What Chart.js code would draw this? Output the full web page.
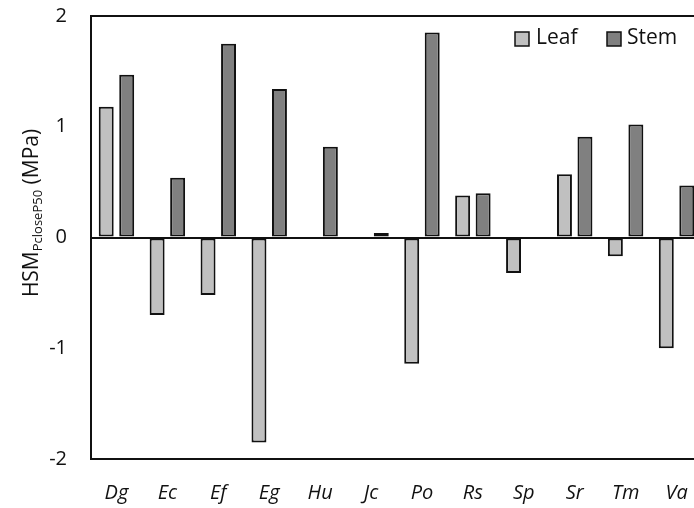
<!DOCTYPE html>
<html>
<head>
<meta charset="utf-8">
<script src="https://cdn.jsdelivr.net/npm/chart.js@4/dist/chart.umd.min.js"></script>
<style>
  html, body { margin: 0; padding: 0; background: #fff; overflow: hidden; }
  #wrap { position: relative; width: 705px; height: 508px; }
</style>
</head>
<body>
<div id="wrap"><canvas id="c"></canvas></div>
<script>
const categories = ["Dg", "Ec", "Ef", "Eg", "Hu", "Jc", "Po", "Rs", "Sp", "Sr", "Tm", "Va"];
const leafValues = [1.18, -0.70, -0.52, -1.85, null, null, -1.14, 0.38, -0.32, 0.57, -0.17, -1.00];
const stemValues = [1.47, 0.54, 1.75, 1.34, 0.82, 0.04, 1.85, 0.40, null, 0.91, 1.02, 0.47];
const yTicks = [-2, -1, 0, 1, 2];
const seriesNames = ["Leaf", "Stem"];

const FONT = "'Open Sans', 'DejaVu Sans', sans-serif";

const frameAndLegend = {
  id: 'frameAndLegend',
  afterDraw(chart) {
    const ctx = chart.ctx;
    ctx.save();
    const items = [
      { x: 515, tx: 536 },
      { x: 607, tx: 627 }
    ];
    ctx.font = "21px " + FONT;
    ctx.textBaseline = 'middle';
    ctx.textAlign = 'left';
    chart.data.datasets.forEach((ds, i) => {
      const it = items[i];
      ctx.fillStyle = ds.backgroundColor;
      ctx.fillRect(it.x, 32, 14, 14);
      ctx.strokeStyle = '#111';
      ctx.lineWidth = 1.5;
      ctx.strokeRect(it.x, 32, 14, 14);
      ctx.fillStyle = '#111';
      ctx.fillText(ds.label, it.tx, 38);
    });
    ctx.translate(31, 213);
    ctx.rotate(-Math.PI / 2);
    const f1 = "21px " + FONT, f2 = "13px " + FONT;
    ctx.font = f1; const w1 = ctx.measureText("HSM").width;
    ctx.font = f2; const w2 = ctx.measureText("PcloseP50").width;
    ctx.font = f1; const w3 = ctx.measureText(" (MPa)").width;
    let x = -(w1 + w2 + w3) / 2;
    ctx.textBaseline = 'alphabetic';
    ctx.fillStyle = '#111';
    ctx.font = f1; ctx.fillText("HSM", x, 7); x += w1;
    ctx.font = f2; ctx.fillText("PcloseP50", x, 11); x += w2;
    ctx.font = f1; ctx.fillText(" (MPa)", x, 7);
    ctx.restore();
  }
};

new Chart(document.getElementById('c'), {
  type: 'bar',
  data: {
    labels: categories,
    datasets: [
      { label: seriesNames[0], data: leafValues, backgroundColor: '#c0c0c0', borderColor: '#111', borderWidth: 2, borderSkipped: false,
        categoryPercentage: 0.805, barPercentage: 0.73 },
      { label: seriesNames[1], data: stemValues, backgroundColor: '#808080', borderColor: '#111', borderWidth: 2, borderSkipped: false,
        categoryPercentage: 0.805, barPercentage: 0.73 }
    ]
  },
  options: {
    responsive: true,
    maintainAspectRatio: false,
    devicePixelRatio: 1,
    animation: false,
    layout: { padding: { top: 16, right: 3, left: 0, bottom: 0 } },
    plugins: { legend: { display: false }, tooltip: { enabled: false } },
    scales: {
      x: {
        grid: { display: false, drawTicks: false },
        border: { display: true, color: '#111', width: 2 },
        ticks: { font: { family: FONT, size: 20, style: 'italic' }, color: '#111', padding: 22, maxRotation: 0, autoSkip: false },
        afterFit(s) { s.height = 49; s.paddingLeft = 0; s.paddingRight = 0; }
      },
      y: {
        min: -2, max: 2,
        afterBuildTicks(s) { s.ticks = yTicks.map(v => ({ value: v })); },
        grid: {
          drawTicks: false,
          color: (c) => (c.tick && (c.tick.value === 0 || c.tick.value === 2)) ? '#111' : 'rgba(0,0,0,0)',
          lineWidth: 2
        },
        border: { display: true, color: '#111', width: 2 },
        ticks: { font: { family: FONT, size: 20 }, color: '#111', padding: 24 },
        afterFit(s) { s.width = 91; s.paddingTop = 0; s.paddingBottom = 0; }
      }
    }
  },
  plugins: [frameAndLegend]
});
</script>
</body>
</html>
